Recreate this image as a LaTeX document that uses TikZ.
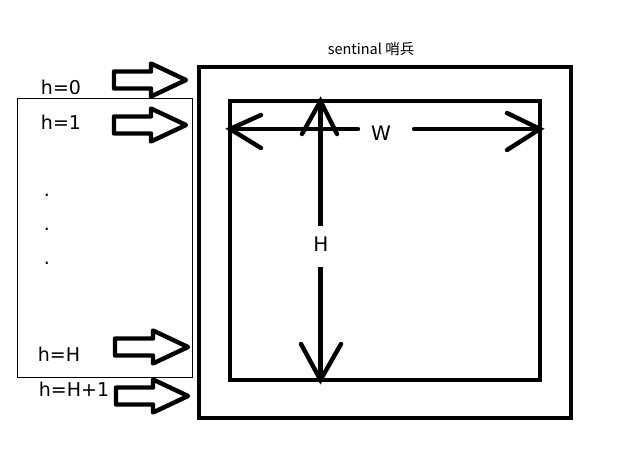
\documentclass[tikz,border=0pt]{standalone}
\usepackage{fontspec}
\setmainfont{DejaVu Sans}
\newfontfamily\cjk{Noto Sans CJK SC}
\begin{document}
\begin{tikzpicture}[x=1pt,y=-1pt,
  lbl/.style={inner sep=0pt,font=\fontsize{19}{22}\selectfont},
  thick box/.style={draw,line width=4.6pt,inner sep=0pt},
  block arrow/.style={draw,line width=4.4pt,line join=round},
  dim/.style={line width=4.4pt,line cap=round}]
\useasboundingbox (0,0) rectangle (618,464);
% title
\node[inner sep=0pt,font=\cjk\fontsize{14.5}{16}\selectfont] (title) at (371,49) {sentinal 哨兵};
% frame of indices
\node[draw,line width=0.9pt,inner sep=0pt,minimum width=175pt,minimum height=279pt] (range) at (104.5,237.5) {};
% outer and inner squares
\node[thick box,minimum width=372pt,minimum height=351pt] (outer) at (385,242.5) {};
\node[thick box,minimum width=310pt,minimum height=279pt] (inner) at (385,240.5) {};
% labels
\node[lbl] (h0) at (61,87) {h=0};
\node[lbl] (h1) at (61,122) {h=1};
\node[lbl] (d1) at (47,195) {.};
\node[lbl] (d2) at (47,229) {.};
\node[lbl] (d3) at (47,263) {.};
\node[lbl] (hH) at (59,354) {h=H};
\node[lbl] (hH1) at (74,389) {h=H+1};
% block arrows
\foreach \c/\l/\hb/\tp in {80/114/151/186, 125/114/151/186, 347/115/153/188, 396/116/153/188}{
  \draw[block arrow] (\l,\c-8.5) -- (\hb,\c-8.5) -- (\hb,\c-16.5) -- (\tp,\c) -- (\hb,\c+16.5) -- (\hb,\c+8.5) -- (\l,\c+8.5) -- cycle;
}
% W dimension
\node[lbl,font=\fontsize{20}{22}\selectfont] (W) at (381,133) {W};
\coordinate (wl) at (230,129);
\coordinate (wr) at (540,129);
\draw[dim] (wl) -- (358,129);
\draw[dim] (414,129) -- (wr);
\draw[dim] (261,115) -- (wl) -- (261,148);
\draw[dim] (507,113) -- (wr) -- (507,150);
% H dimension
\node[lbl,font=\fontsize{20}{22}\selectfont] (H) at (321,244) {H};
\coordinate (ht) at (320.5,101);
\coordinate (hb) at (320.5,380);
\draw[dim,line cap=butt] (ht) -- (320.5,226);
\draw[dim,line cap=butt] (320.5,267) -- (hb);
\draw[dim] (302,134) -- (ht) -- (337,134);
\draw[dim] (301,344) -- (hb) -- (341,344);
\end{tikzpicture}
\end{document}
